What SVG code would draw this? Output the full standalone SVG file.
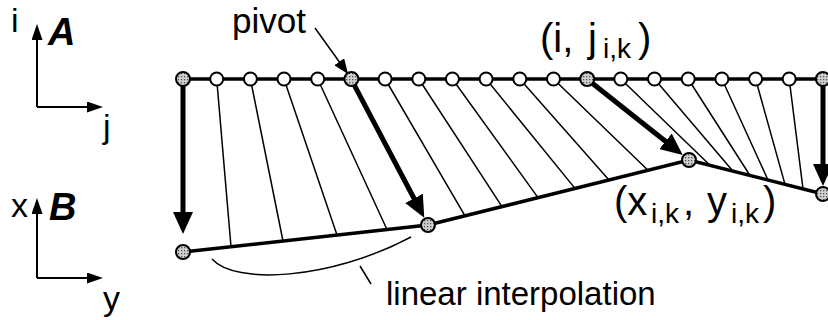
<svg xmlns="http://www.w3.org/2000/svg" width="828" height="320" viewBox="0 0 828 320">
<style>
text{font-family:"Liberation Sans",Arial,sans-serif;fill:#000}
.lbl{font-size:34px}
.bi{font-size:38px;font-weight:bold;font-style:italic}
.thin{stroke:#000;stroke-width:1.5;fill:none}
.thick{stroke:#000;stroke-width:3.5;fill:none}
.big{stroke:#000;stroke-width:5;fill:none;marker-end:url(#bighead)}
.ax{stroke:#000;stroke-width:2;fill:none;marker-end:url(#axhead)}
.open{fill:#fff;stroke:#000;stroke-width:2}
.piv{fill:url(#dots);stroke:#000;stroke-width:2}
.main{font-size:40px}
.sub{font-size:28px}
</style>
<defs>
<pattern id="dots" width="3" height="3" patternUnits="userSpaceOnUse">
<rect width="3" height="3" fill="#d0d0d0"/>
<rect x="1" y="1" width="1.3" height="1.3" fill="#555"/>
</pattern>
<marker id="bighead" markerUnits="userSpaceOnUse" markerWidth="22" markerHeight="20" refX="12" refY="10" orient="auto" viewBox="0 0 22 20">
<path d="M0,0 L22,10 L0,20 z" fill="#000"/>
</marker>
<marker id="axhead" markerUnits="userSpaceOnUse" markerWidth="16" markerHeight="11" refX="12" refY="5.5" orient="auto" viewBox="0 0 16 11">
<path d="M0,0 L16,5.5 L0,11 z" fill="#000"/>
</marker>
<marker id="thinhead" markerUnits="userSpaceOnUse" markerWidth="15" markerHeight="12" refX="11" refY="6" orient="auto" viewBox="0 0 15 12">
<path d="M0,0 L15,6 L0,12 z" fill="#000"/>
</marker>
</defs>

<g id="axes-A">
<path class="ax" d="M37,107 L37,28"/>
<path class="ax" d="M37,107 L99,107"/>
<text class="lbl" x="11" y="32">i</text>
<text class="bi" x="48" y="45">A</text>
<text class="lbl" x="103" y="138">j</text>
</g>
<g id="axes-B">
<path class="ax" d="M37,278 L37,202"/>
<path class="ax" d="M37,278 L99,278"/>
<text class="lbl" x="11" y="217">x</text>
<text class="bi" x="49" y="220">B</text>
<text class="lbl" x="103" y="310">y</text>
</g>

<g id="connectors">
<path class="thin" d="M216.7,79 L231,246.7 M250.4,79 L283,241 M284,79 L337,235 M317.7,79 L387,229.5"/>
<path class="thin" d="M385.1,79 L465,215.8 M418.8,79 L502,206.6 M452.4,79 L538,197.6 M486.1,79 L575,188.4 M519.8,79 L609,180 M553.5,79 L648,170.2"/>
<path class="thin" d="M620.8,79 L710,165.3 M654.5,79 L733,171.2 M688.2,79 L750,175.5 M721.9,79 L768,180 M755.6,79 L785,184.4 M789.2,79 L803,188.9"/>
<path class="thick" d="M183,79 L828,79"/>
<path class="thick" d="M183,252 L428,225 L689,160 L823,194"/>
<path class="big" d="M183,86 L183,224"/>
<path class="big" d="M354.3,85.2 L419.6,209"/>
<path class="big" d="M592.3,83.3 L674.9,148.8"/>
<path class="big" d="M823,86 L823,176"/>
<path class="thin" d="M315,28 L345.7,70.7" marker-end="url(#thinhead)"/>
<path class="thin" d="M212,259 C235,285 330,280 411,237"/>
<path class="thin" d="M360,266 L371,284"/>
</g>

<g id="top-nodes">
<circle class="piv" cx="183" cy="79" r="7"/>
<circle class="open" cx="216.7" cy="79" r="6.5"/>
<circle class="open" cx="250.4" cy="79" r="6.5"/>
<circle class="open" cx="284" cy="79" r="6.5"/>
<circle class="open" cx="317.7" cy="79" r="6.5"/>
<circle class="piv" cx="351.4" cy="79" r="7"/>
<circle class="open" cx="385.1" cy="79" r="6.5"/>
<circle class="open" cx="418.8" cy="79" r="6.5"/>
<circle class="open" cx="452.4" cy="79" r="6.5"/>
<circle class="open" cx="486.1" cy="79" r="6.5"/>
<circle class="open" cx="519.8" cy="79" r="6.5"/>
<circle class="open" cx="553.5" cy="79" r="6.5"/>
<circle class="piv" cx="587.2" cy="79" r="7"/>
<circle class="open" cx="620.8" cy="79" r="6.5"/>
<circle class="open" cx="654.5" cy="79" r="6.5"/>
<circle class="open" cx="688.2" cy="79" r="6.5"/>
<circle class="open" cx="721.9" cy="79" r="6.5"/>
<circle class="open" cx="755.6" cy="79" r="6.5"/>
<circle class="open" cx="789.2" cy="79" r="6.5"/>
<circle class="piv" cx="822.9" cy="79" r="7"/>
</g>

<g id="bottom-nodes">
<circle class="piv" cx="183" cy="252" r="7"/>
<circle class="piv" cx="428" cy="225" r="7"/>
<circle class="piv" cx="689" cy="160" r="7"/>
<circle class="piv" cx="823" cy="194" r="7"/>
</g>

<g id="labels">
<text class="lbl" x="232" y="33" font-size="35" style="font-size:35px">pivot</text>
<text class="main" y="52"><tspan x="540">(i,</tspan><tspan x="588">j</tspan><tspan class="sub" dy="6" x="603">i,k</tspan><tspan dy="-6" x="638">)</tspan></text>
<text class="main" y="215"><tspan x="614">(x</tspan><tspan class="sub" dy="8" x="651">i,k</tspan><tspan dy="-8" x="683">,</tspan><tspan x="707">y</tspan><tspan class="sub" dy="8" x="731">i,k</tspan><tspan dy="-8" x="763">)</tspan></text>
<text class="lbl" x="386" y="305" style="font-size:33px">linear interpolation</text>
</g>
</svg>
